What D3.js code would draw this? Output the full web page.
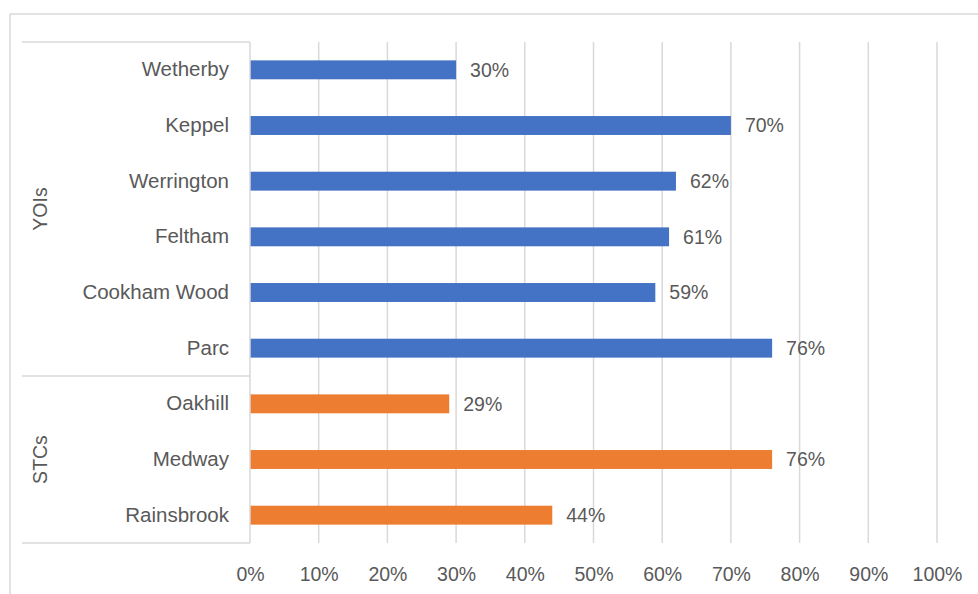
<!DOCTYPE html>
<html>
<head>
<meta charset="utf-8">
<script src="https://cdn.jsdelivr.net/npm/d3@7"></script>
<style>
  html, body { margin: 0; padding: 0; background: #fff; }
  svg text { font-family: "Liberation Sans", Arial, sans-serif; fill: #595959; }
</style>
</head>
<body>
<svg id="chart" width="978" height="594"></svg>
<script>
const categories = ["Wetherby", "Keppel", "Werrington", "Feltham", "Cookham Wood", "Parc", "Oakhill", "Medway", "Rainsbrook"];
const groups = ["YOIs", "YOIs", "YOIs", "YOIs", "YOIs", "YOIs", "STCs", "STCs", "STCs"];
const values = [0.30, 0.70, 0.62, 0.61, 0.59, 0.76, 0.29, 0.76, 0.44];
const groupNames = ["YOIs", "STCs"];
const groupColors = ["#4472C4", "#ED7D31"];
const tickValues = [0, 0.1, 0.2, 0.3, 0.4, 0.5, 0.6, 0.7, 0.8, 0.9, 1.0];

const svg = d3.select("#chart");
const pLeft = 250, pRight = 937, pTop = 42, pBottom = 543;
const grid = "#d9d9d9";

// outer chart border
svg.append("rect").attr("x", 10).attr("y", 14).attr("width", 990).attr("height", 600)
  .attr("fill", "none").attr("stroke", grid).attr("stroke-width", 1.5);

const x = d3.scaleLinear().domain([0, 1]).range([pLeft, pRight]);
const y = d3.scaleBand().domain(categories).range([pTop, pBottom]).paddingInner(0.66).paddingOuter(0.33);
const yStep = d3.scaleBand().domain(categories).range([pTop, pBottom]);

// gridlines
svg.append("g").selectAll("line").data(tickValues.slice(1)).join("line")
  .attr("x1", d => x(d)).attr("x2", d => x(d))
  .attr("y1", pTop).attr("y2", pBottom)
  .attr("stroke", grid).attr("stroke-width", 1.5);

// x axis tick labels
const xAxis = d3.axisBottom(x).tickValues(tickValues).tickFormat(d3.format(".0%")).tickSize(0).tickPadding(0);
const gx = svg.append("g").attr("transform", `translate(0,${pBottom + 32})`).call(xAxis);
gx.select(".domain").remove();
gx.selectAll("text").attr("font-size", 19.5).attr("fill", "#595959").attr("dy", "0.32em")
  .style("font-family", "'Liberation Sans', Arial, sans-serif");

// bars
svg.append("g").selectAll("rect").data(categories).join("rect")
  .attr("x", x(0))
  .attr("y", d => y(d))
  .attr("width", (d, i) => x(values[i]) - x(0))
  .attr("height", y.bandwidth())
  .attr("fill", (d, i) => groupColors[groupNames.indexOf(groups[i])]);

// data labels
svg.append("g").selectAll("text").data(categories).join("text")
  .attr("x", (d, i) => x(values[i]) + 14)
  .attr("y", d => y(d) + y.bandwidth() / 2)
  .attr("dy", "0.35em")
  .attr("font-size", 19.5)
  .text((d, i) => d3.format(".0%")(values[i]));

// category axis
const yAxis = d3.axisLeft(yStep).tickSize(0).tickPadding(21);
const gy = svg.append("g").attr("transform", `translate(${pLeft},0)`).call(yAxis);
gy.select(".domain").remove();
gy.selectAll("text").attr("font-size", 20.5).attr("fill", "#595959")
  .style("font-family", "'Liberation Sans', Arial, sans-serif");

// axis line
svg.append("line").attr("x1", pLeft).attr("x2", pLeft).attr("y1", pTop).attr("y2", pBottom)
  .attr("stroke", grid).attr("stroke-width", 1.5);

// group boundaries
const boundaries = [pTop];
groupNames.forEach(g => {
  const last = categories[groups.lastIndexOf(g)];
  boundaries.push(yStep(last) + yStep.bandwidth());
});
svg.append("g").selectAll("line").data(boundaries).join("line")
  .attr("x1", 22).attr("x2", pLeft).attr("y1", d => d).attr("y2", d => d)
  .attr("stroke", grid).attr("stroke-width", 1.5);

// group labels
svg.append("g").selectAll("text").data(groupNames).join("text")
  .attr("transform", (g, i) => `translate(40,${(boundaries[i] + boundaries[i + 1]) / 2}) rotate(-90)`)
  .attr("text-anchor", "middle").attr("dy", "0.35em")
  .attr("font-size", 19.5)
  .text(g => g);
</script>
</body>
</html>
